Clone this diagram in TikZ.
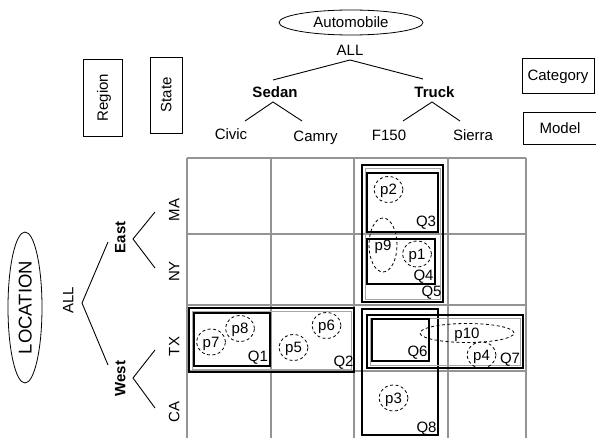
\documentclass[tikz,border=0pt]{standalone}
\usepackage{fontspec}
\setmainfont{Liberation Sans}
\usetikzlibrary{calc,shapes.geometric}
\begin{document}
\begin{tikzpicture}[x=1pt,y=-1pt,
  every node/.style={font=\fontsize{15}{18}\selectfont, inner sep=0pt, text height=10.7pt, text depth=0pt},
  boldlbl/.style={font=\fontsize{15}{18}\selectfont\bfseries},
  vlbl/.style={rotate=90},
  gridline/.style={draw=black!42, line width=1.5pt},
  qbox/.style={draw=black, line width=2.2pt},
  qinner/.style={draw=black!35, line width=0.8pt},
  pt/.style={ellipse, draw, dash pattern=on 3pt off 2.5pt, line width=0.8pt, minimum width=29pt, minimum height=26pt},
  dimbox/.style={draw, line width=0.8pt},
  branch/.style={line width=0.9pt}
]
\useasboundingbox (0,0) rectangle (596,438);

% grid
\foreach \y in {158,234,305,371} \draw[gridline] (187,\y) -- (526,\y);
\foreach \x in {187,271,354,448,526} \draw[gridline] (\x,158) -- (\x,440);

% top hierarchy
\node[ellipse, draw, line width=0.8pt, minimum width=144pt, minimum height=25pt] (auto) at (351,22.5) {Automobile};
\node (tall) at (350,50) {ALL};
\node[boldlbl] (sedan) at (275,92) {Sedan};
\node[boldlbl] (truck) at (434.5,92) {Truck};
\node (civic) at (231,134) {Civic};
\node (camry) at (315.5,136) {Camry};
\node (f150) at (389,135.5) {F150};
\node (sierra) at (473,135.5) {Sierra};
\draw[branch] ($(tall)+(0,10)$) -- ($(sedan)+(-2,-12)$);
\draw[branch] ($(tall)+(0,10)$) -- ($(truck)+(-11.5,-13)$);
\draw[branch] ($(civic)+(14,-13)$) -- ($(sedan)+(-2,10)$) -- ($(camry)+(-13.5,-15)$);
\draw[branch] ($(f150)+(14,-14.5)$) -- ($(truck)+(-2.5,10)$) -- ($(sierra)+(-13,-14.5)$);

% level boxes
\node[dimbox, vlbl, minimum width=77pt, minimum height=39pt] (region) at (102.5,97.5) {Region};
\node[dimbox, vlbl, minimum width=76pt, minimum height=32pt] (state) at (166,95) {State};
\node[dimbox, minimum width=72pt, minimum height=35pt] (category) at (558,75.5) {Category};
\node[dimbox, minimum width=74pt, minimum height=32pt] (model) at (560,128) {Model};

% left hierarchy
\node[ellipse, draw, line width=0.8pt, vlbl, minimum width=151pt, minimum height=34pt, font=\fontsize{18.5}{22}\selectfont, text height=13.2pt] (loc) at (25,307.5) {LOCATION};
\node[vlbl] (lall) at (68,300) {ALL};
\node[vlbl, boldlbl] (east) at (120,237.5) {East};
\node[vlbl, boldlbl] (west) at (120,378.5) {West};
\node[vlbl] (ma) at (174,210) {MA};
\node[vlbl] (ny) at (174,271.5) {NY};
\node[vlbl] (tx) at (174,346.5) {TX};
\node[vlbl] (ca) at (174,412) {CA};
\draw[branch] ($(east)+(-12,4.5)$) -- ($(lall)+(14,3)$) -- ($(west)+(-12,-13.5)$);
\draw[branch] ($(ma)+(-19,2)$) -- ($(east)+(13,1.5)$) -- ($(ny)+(-19,-3.5)$);
\draw[branch] ($(tx)+(-19,3.5)$) -- ($(west)+(13,-0.5)$) -- ($(ca)+(-19,-4)$);

% query boxes
\draw[qbox] (189,308) rectangle (354,372);
\draw[qinner] (192,311) rectangle (351,369);
\draw[qbox] (194,313) rectangle (270,366);
\draw[qbox] (362,165) rectangle (443,302);
\draw[qinner] (365,168) rectangle (440,299);
\draw[qbox] (367,173) rectangle (438,232);
\draw[qbox] (367,239) rectangle (435,284);
\draw[qbox] (362,309) rectangle (438,435);
\draw[qbox] (367,315) rectangle (523,368);
\draw[qinner] (370,318) rectangle (520,365);
\draw[qbox] (372,319) rectangle (429,361);

\node (q1) at (258,356) {Q1};
\node (q2) at (343.5,361) {Q2};
\node (q3) at (426,221.5) {Q3};
\node (q4) at (423.5,275) {Q4};
\node (q5) at (431.5,291.5) {Q5};
\node (q6) at (417.5,351) {Q6};
\node (q7) at (510,358) {Q7};
\node (q8) at (426.5,427) {Q8};

% points
\node[pt] (p1) at (417,254) {p1};
\node[pt] (p2) at (388.5,189.5) {p2};
\node[pt] (p3) at (393.5,398) {p3};
\node[pt] (p4) at (481.5,355) {p4};
\node[pt] (p5) at (293.5,347.5) {p5};
\node[pt] (p6) at (326.5,325.5) {p6};
\node[pt] (p7) at (211,342) {p7};
\node[pt] (p8) at (240,328.5) {p8};
\node[pt, minimum width=28pt, minimum height=54pt] (p9) at (383,245) {p9};
\node[pt, minimum width=94pt, minimum height=19pt] (p10) at (467,333) {p10};
\end{tikzpicture}
\end{document}
